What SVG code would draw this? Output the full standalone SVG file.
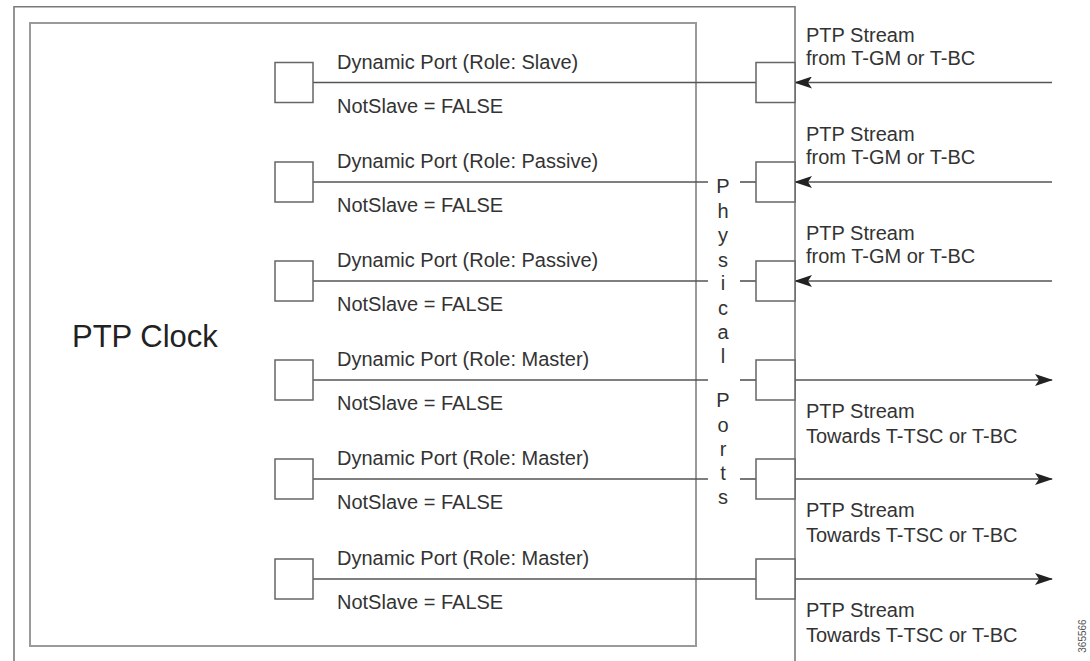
<svg xmlns="http://www.w3.org/2000/svg" width="1090" height="661" viewBox="0 0 1090 661">
<style>
.t{font-family:"Liberation Sans",Arial,sans-serif;font-size:20px;fill:#333}
.v{font-family:"Liberation Sans",Arial,sans-serif;font-size:20px;fill:#333;text-anchor:middle}
.big{font-family:"Liberation Sans",Arial,sans-serif;font-size:31px;fill:#222}
.sq{fill:#fff;stroke:#666;stroke-width:1.5}
.ln{stroke:#555;stroke-width:1.6;fill:none}
.frame{fill:none;stroke:#7a7a7a;stroke-width:1.6}
.inner{fill:none;stroke:#9a9a9a;stroke-width:2}
</style>
<defs>
<marker id="ah" viewBox="0 0 18 12" refX="17" refY="6" markerWidth="18" markerHeight="12" markerUnits="userSpaceOnUse" orient="auto">
<path d="M0,0 L18,6 L0,12 L4,6 Z" fill="#222"/>
</marker>
</defs>
<rect width="1090" height="661" fill="#fff"/>
<g id="device">
<path class="frame" d="M14,661 V6.7 H795 V661"/>
</g>
<g id="ptp-clock">
<rect class="inner" x="30" y="23" width="666" height="623"/>
<text class="big" x="72" y="347">PTP Clock</text>
</g>
<g id="physical-ports-label">
<text class="v" x="723" y="193">P</text>
<text class="v" x="723" y="218">h</text>
<text class="v" x="723" y="242">y</text>
<text class="v" x="723" y="267">s</text>
<text class="v" x="723" y="290">i</text>
<text class="v" x="723" y="315">c</text>
<text class="v" x="723" y="339">a</text>
<text class="v" x="723" y="363">l</text>
<text class="v" x="723" y="407">P</text>
<text class="v" x="723" y="432">o</text>
<text class="v" x="723" y="456">r</text>
<text class="v" x="723" y="480">t</text>
<text class="v" x="723" y="504">s</text>
</g>
<g id="connectors">
<line class="ln" x1="313" y1="82.5" x2="756" y2="82.5"/>
<line class="ln" x1="313" y1="182" x2="708" y2="182"/><line class="ln" x1="740" y1="182" x2="756" y2="182"/>
<line class="ln" x1="313" y1="281" x2="708" y2="281"/><line class="ln" x1="740" y1="281" x2="756" y2="281"/>
<line class="ln" x1="313" y1="380" x2="708" y2="380"/><line class="ln" x1="740" y1="380" x2="756" y2="380"/>
<line class="ln" x1="313" y1="479" x2="708" y2="479"/><line class="ln" x1="740" y1="479" x2="756" y2="479"/>
<line class="ln" x1="313" y1="579" x2="756" y2="579"/>
<line class="ln" x1="1052" y1="82.5" x2="795" y2="82.5" marker-end="url(#ah)"/>
<line class="ln" x1="1052" y1="182" x2="795" y2="182" marker-end="url(#ah)"/>
<line class="ln" x1="1052" y1="281" x2="795" y2="281" marker-end="url(#ah)"/>
<line class="ln" x1="795" y1="380" x2="1052" y2="380" marker-end="url(#ah)"/>
<line class="ln" x1="795" y1="479" x2="1052" y2="479" marker-end="url(#ah)"/>
<line class="ln" x1="795" y1="579" x2="1052" y2="579" marker-end="url(#ah)"/>
</g>
<g id="port1">
<rect class="sq" x="275" y="62.5" width="38" height="40"/>
<text class="t" x="337" y="68.5">Dynamic Port (Role: Slave)</text>
<text class="t" x="337" y="112.5">NotSlave = FALSE</text>
<rect class="sq" x="756" y="62.5" width="39" height="40"/>
<text class="t" x="806" y="42">PTP Stream</text>
<text class="t" x="806" y="65">from T-GM or T-BC</text>
</g>
<g id="port2">
<rect class="sq" x="275" y="162" width="38" height="40"/>
<text class="t" x="337" y="168">Dynamic Port (Role: Passive)</text>
<text class="t" x="337" y="212">NotSlave = FALSE</text>
<rect class="sq" x="756" y="162" width="39" height="40"/>
<text class="t" x="806" y="141">PTP Stream</text>
<text class="t" x="806" y="164">from T-GM or T-BC</text>
</g>
<g id="port3">
<rect class="sq" x="275" y="261" width="38" height="40"/>
<text class="t" x="337" y="267">Dynamic Port (Role: Passive)</text>
<text class="t" x="337" y="311">NotSlave = FALSE</text>
<rect class="sq" x="756" y="261" width="39" height="40"/>
<text class="t" x="806" y="240">PTP Stream</text>
<text class="t" x="806" y="263">from T-GM or T-BC</text>
</g>
<g id="port4">
<rect class="sq" x="275" y="360" width="38" height="40"/>
<text class="t" x="337" y="366">Dynamic Port (Role: Master)</text>
<text class="t" x="337" y="410">NotSlave = FALSE</text>
<rect class="sq" x="756" y="360" width="39" height="40"/>
<text class="t" x="806" y="418">PTP Stream</text>
<text class="t" x="806" y="443">Towards T-TSC or T-BC</text>
</g>
<g id="port5">
<rect class="sq" x="275" y="459" width="38" height="40"/>
<text class="t" x="337" y="465">Dynamic Port (Role: Master)</text>
<text class="t" x="337" y="509">NotSlave = FALSE</text>
<rect class="sq" x="756" y="459" width="39" height="40"/>
<text class="t" x="806" y="517">PTP Stream</text>
<text class="t" x="806" y="542">Towards T-TSC or T-BC</text>
</g>
<g id="port6">
<rect class="sq" x="275" y="559" width="38" height="40"/>
<text class="t" x="337" y="565">Dynamic Port (Role: Master)</text>
<text class="t" x="337" y="609">NotSlave = FALSE</text>
<rect class="sq" x="756" y="559" width="39" height="40"/>
<text class="t" x="806" y="617">PTP Stream</text>
<text class="t" x="806" y="642">Towards T-TSC or T-BC</text>
</g>
<text x="1086" y="636" transform="rotate(-90 1086 636)" text-anchor="middle" style="font-family:'Liberation Sans',Arial,sans-serif;font-size:10px;fill:#555">365566</text>
</svg>
